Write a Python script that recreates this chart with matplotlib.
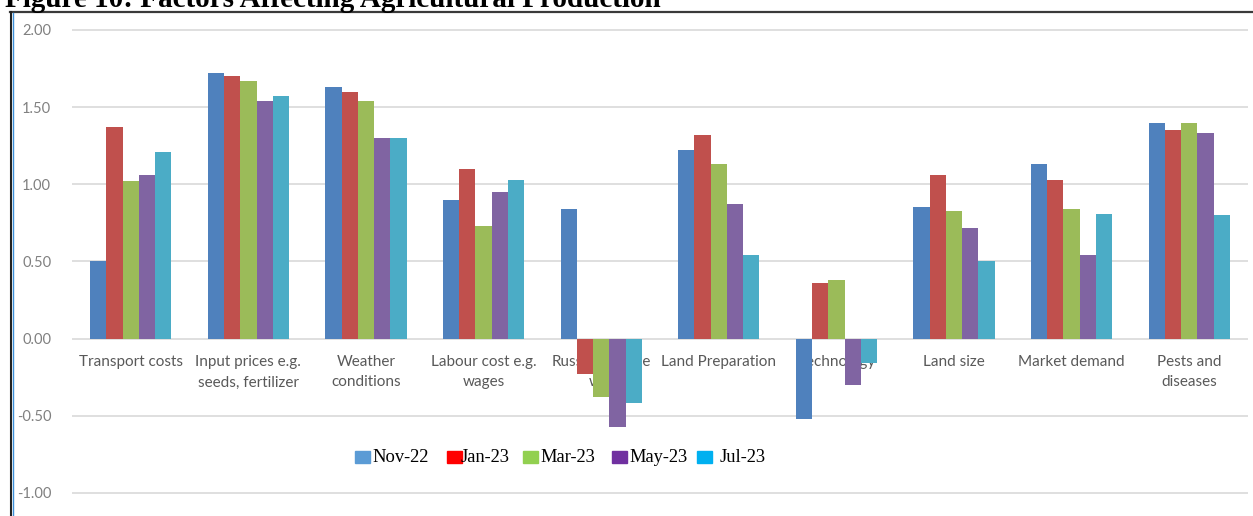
import matplotlib
matplotlib.use("Agg")
import matplotlib.pyplot as plt
from matplotlib.lines import Line2D
from matplotlib.patches import Rectangle
import numpy as np

categories = ["Transport costs", "Input prices e.g.\nseeds, fertilizer", "Weather\nconditions",
              "Labour cost e.g.\nwages", "Russo/Ukraine\nwar", "Land Preparation", "Technology",
              "Land size", "Market demand", "Pests and\ndiseases"]
series_names = ["Nov-22", "Jan-23", "Mar-23", "May-23", "Jul-23"]
nov22 = [0.50, 1.72, 1.63, 0.90, 0.84, 1.22, -0.52, 0.85, 1.13, 1.40]
jan23 = [1.37, 1.70, 1.60, 1.10, -0.23, 1.32, 0.36, 1.06, 1.03, 1.35]
mar23 = [1.02, 1.67, 1.54, 0.73, -0.38, 1.13, 0.38, 0.83, 0.84, 1.40]
may23 = [1.06, 1.54, 1.30, 0.95, -0.57, 0.87, -0.30, 0.72, 0.54, 1.33]
jul23 = [1.21, 1.57, 1.30, 1.03, -0.42, 0.54, -0.16, 0.50, 0.81, 0.80]
yticks = [-1.0, -0.5, 0.0, 0.5, 1.0, 1.5, 2.0]
title = "Figure 10: Factors Affecting Agricultural Production"

series = [nov22, jan23, mar23, may23, jul23]
bar_colors = ["#4F81BD", "#C0504D", "#9BBB59", "#8064A2", "#4BACC6"]
legend_colors = ["#5B9BD5", "#FF0000", "#92D050", "#7030A0", "#00B0F0"]

W, H = 1253, 516
fig = plt.figure(figsize=(W / 100, H / 100), dpi=100)

# axes in pixel layout
ylo, yhi = -1.02, 2.02
ppu = (493 - 30) / 3.0
top_px = 30 - (yhi - 2.0) * ppu
bot_px = 493 + (-1.0 - ylo) * ppu
ax = fig.add_axes([72 / W, 1 - bot_px / H, 1176 / W, (bot_px - top_px) / H])
ax.set_xlim(-0.5, len(categories) - 0.5)
ax.set_ylim(ylo, yhi)
for s in ax.spines.values():
    s.set_visible(False)
ax.set_xticks([])
ax.set_yticks(yticks)
ax.set_yticklabels([f"{v:.2f}" for v in yticks], fontsize=10.5, color="#808080", family="Lato")
ax.tick_params(axis="y", length=0, pad=15)
for v in yticks:
    ax.axhline(v, color="#D9D9D9", lw=1.2, zorder=1)

x = np.arange(len(categories))
bw = 0.138
for i, (vals, c) in enumerate(zip(series, bar_colors)):
    ax.bar(x + (i - 2) * bw, vals, width=bw, color=c, zorder=3, linewidth=0)

# category labels below the zero line
for xi, lab in zip(x, categories):
    ax.text(xi, -0.105, lab, ha="center", va="top", fontsize=11, color="#595959",
            family="Lato", linespacing=1.6, zorder=2)

# legend (manual)
leg_y = 1 - 457 / H
patch_x = [355, 447, 523, 612, 697]
text_x = [372, 461, 540, 629, 720]
for px, tx, name, c in zip(patch_x, text_x, series_names, legend_colors):
    fig.add_artist(Rectangle((px / W, leg_y - 6 / H), 15 / W, 12 / H, color=c,
                             transform=fig.transFigure))
    fig.text(tx / W, leg_y, name, ha="left", va="center", fontsize=13.3,
             family="Liberation Serif", color="black")

# border
fig.add_artist(Line2D([10 / W, 1.0], [1 - 12 / H, 1 - 12 / H], color="#3A3A3A", lw=1.6,
                      transform=fig.transFigure))
fig.add_artist(Line2D([10.5 / W, 10.5 / W], [0, 1 - 12 / H], color="#222222", lw=1.5,
                      transform=fig.transFigure))
fig.add_artist(Line2D([12.5 / W, 12.5 / W], [0, 1 - 13 / H], color="#3D8FD8", lw=1.0,
                      transform=fig.transFigure))

# title (partially cut off at top, as in the reference)
fig.text(5 / W, 1 - 7 / H, title, ha="left", va="baseline", fontsize=21,
         fontweight="bold", family="Liberation Serif", color="black")

fig.savefig("out.png", dpi=100)
